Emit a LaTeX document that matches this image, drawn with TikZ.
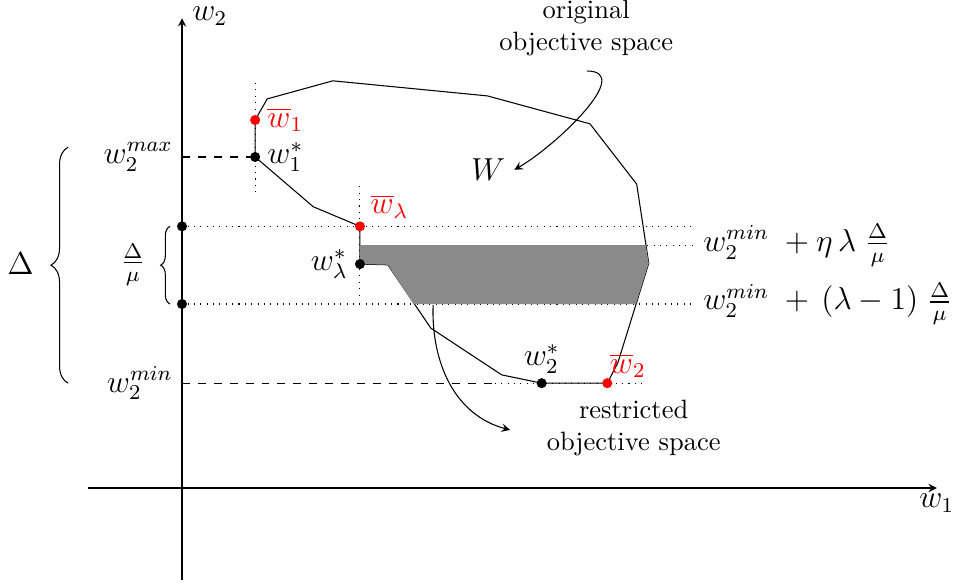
\documentclass[tikz,border=0pt]{standalone}
\usetikzlibrary{positioning,decorations.pathreplacing}

\tikzset{
  dot/.style={circle, fill=black, inner sep=0pt, minimum size=3.8pt},
  reddot/.style={dot, fill=red},
  lab/.style={font=\large},
  redlab/.style={lab, text=red},
  guide/.style={dotted},
  band/.style={fill=black!46},
  curly/.style={decorate, decoration={brace, amplitude=#1}},
}

\begin{document}
\begin{tikzpicture}[>=stealth]
  \useasboundingbox (-2.414,-1.273) rectangle (10.265,6.472);
  % --- Axes ---
  \coordinate (w1start) at (-1.25,0);
  \coordinate (w1end) at (10.01,0);
  \coordinate (w2start) at (0,-1.22);
  \coordinate (w2end) at (0,6.23);
  \draw[->] (w1start) -- (w1end);
  \draw[->] (w2start) -- (w2end);
  \node[lab, below, inner sep=2pt] (w1lab) at (w1end) {$w_1$};
  \node[lab, anchor=west, inner sep=0pt] (w2lab) at (0.13,6.26) {$w_2$};
  % --- Points on W ---
  \coordinate (w1bar) at (0.97,4.88);
  \coordinate (w1s) at (0.97,4.39);
  \coordinate (wlbar) at (2.36,3.47);
  \coordinate (wls) at (2.36,2.97);
  \coordinate (w2s) at (4.77,1.39);
  \coordinate (w2bar) at (5.64,1.39);
  % --- Guides (dotted/dashed) ---
  \node[dot] (ytop) at (0,3.47) {};
  \node[dot] (ybot) at (0,2.44) {};
  \coordinate (ytopend) at (6.74,3.47);
  \coordinate (ymaxaxis) at (0,4.39);
  \coordinate (yminaxis) at (0,1.39);
  \coordinate (ymindash) at (4.15,1.39);
  \coordinate (yminend) at (6.14,1.39);
  \node[lab, right] (upperlab) at (6.79,3.22)
    {$w_2^{min}\; + \eta\,\lambda\;\frac{\Delta}{\mu}$};
  \node[lab, right] (lowerlab) at (6.79,2.44)
    {$w_2^{min}\; +\, (\lambda-1)\;\frac{\Delta}{\mu}$};
  \coordinate (upperstart) at (6.17,3.22);
  \draw[guide] (ytop) -- (ytopend);
  \draw[guide] (ybot) -- (lowerlab.west);
  \draw[guide] (upperstart) -- (upperlab.west);
  \draw[guide] (0.97,5.37) -- (0.97,3.87);
  \draw[guide] (2.36,4.00) -- (2.36,2.51);
  \draw[dashed] (ymaxaxis) -- (w1s);
  \draw[dashed] (yminaxis) -- (ymindash);
  \draw[guide] (ymindash) -- (yminend);
  % --- W: original objective space ---
  \draw (w1bar) -- (1.13,5.16) -- (2.00,5.40) -- (4.05,5.20) -- (5.41,4.83)
    -- (6.03,4.03) -- (6.19,2.98) -- (5.78,1.66) -- (w2bar) -- (w2s)
    -- (4.24,1.50) -- (3.30,2.12) -- (2.73,2.96) -- (wls) -- (wlbar)
    -- (1.74,3.73) -- (w1s) -- cycle;
  % restricted band
  \fill[band] (2.36,3.22) -- (6.15,3.22) -- (6.19,2.98) -- (6.02,2.44)
    -- (3.07,2.44) -- (2.73,2.96) -- (wls) -- cycle;
  % --- Dots and their labels ---
  \node[reddot] (w1bard) at (w1bar) {};
  \node[dot] (w1sd) at (w1s) {};
  \node[reddot] (wlbard) at (wlbar) {};
  \node[dot] (wlsd) at (wls) {};
  \node[dot] (w2sd) at (w2s) {};
  \node[reddot] (w2bard) at (w2bar) {};
  \node[redlab, right=-1pt of w1bard] (w1barlab) {$\overline{w}_1$};
  \node[lab, right=-1pt of w1sd] (w1slab) {$w_1^*$};
  \node[redlab, above right=-2pt and -1pt of wlbard] (wlbarlab) {$\overline{w}_\lambda$};
  \node[lab, left=-1pt of wlsd] (wlslab) {$w_\lambda^*$};
  \node[lab, above=-2pt of w2sd] (w2slab) {$w_2^*$};
  \node[redlab, above right=-3pt and -4pt of w2bard] (w2barlab) {$\overline{w}_2$};
  % --- Left side: bounds and braces ---
  \node[lab, left] (wmaxlab) at (0.0,4.39) {$w_2^{max}$};
  \node[lab, left] (wminlab) at (0.0,1.39) {$w_2^{min}$};
  \draw[curly=6.5pt] (-1.51,1.39) -- (-1.51,4.52);
  \node[lab] (deltalab) at (-2.14,2.98) {$\Delta$};
  \draw[curly=3.5pt] (-0.16,2.44) -- (-0.16,3.47);
  \node[lab] (fraclab) at (-0.65,2.96) {$\frac{\Delta}{\mu}$};
  % --- Annotations ---
  \node[lab] (W) at (4.06,4.22) {$W$};
  \node[align=center] (orig) at (5.36,6.10) {original\\objective space};
  \node[align=center] (restr) at (5.99,0.80) {restricted\\objective space};
  \coordinate (origtail) at (5.37,5.53);
  \coordinate (restrtail) at (3.33,2.43);
  \coordinate (restrhead) at (4.35,0.77);
  \draw[->] (origtail) to[out=0, in=30] (W.east);
  \draw[->] (restrtail) to[out=-92, in=165] (restrhead);
\end{tikzpicture}
\end{document}
